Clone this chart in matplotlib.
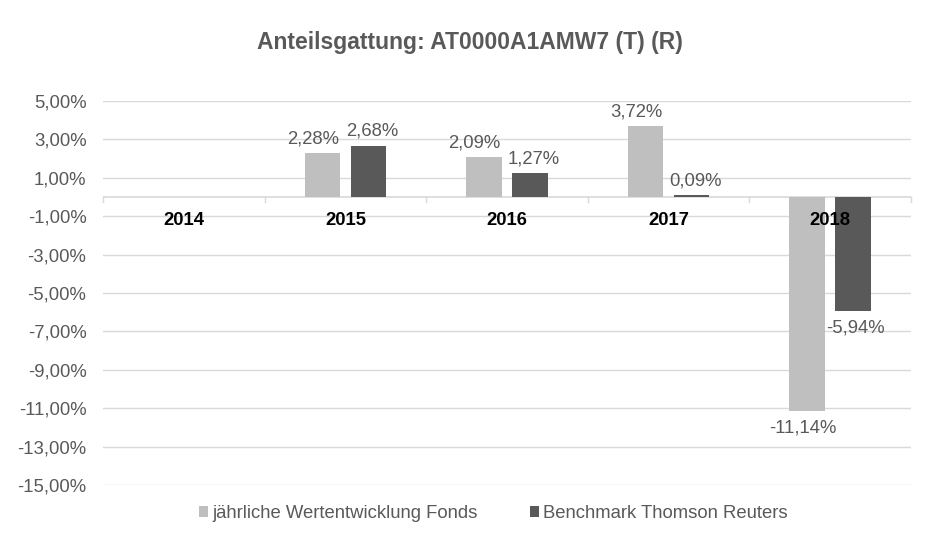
import numpy as np
import matplotlib
matplotlib.use("Agg")
import matplotlib.pyplot as plt

years = ["2014", "2015", "2016", "2017", "2018"]
fonds = [np.nan, 2.28, 2.09, 3.72, -11.14]
benchmark = [np.nan, 2.68, 1.27, 0.09, -5.94]
yticks = [5, 3, 1, -1, -3, -5, -7, -9, -11, -13, -15]

plt.rcParams['font.family'] = ['Liberation Sans', 'DejaVu Sans']

fig = plt.figure(figsize=(9.29, 5.46), dpi=100)
ax = fig.add_axes([0.111, 0.1117, 0.8696, 0.7033])

x = np.arange(len(years))
w = 0.22
off = 0.142
c_f = "#BFBFBF"
c_b = "#595959"
txt = "#595959"
fs = 13.3

ax.bar(x - off, fonds, w, color=c_f, label="jährliche Wertentwicklung Fonds", zorder=3)
ax.bar(x + off, benchmark, w, color=c_b, label="Benchmark Thomson Reuters", zorder=3)

def fmt(v):
    return ("%.2f%%" % v).replace(".", ",")

# labels nudged sideways a little, as Excel does for neighbouring bars
for xs, vals, dx in ((x - off, fonds, -7), (x + off, benchmark, 3)):
    for xi, v in zip(xs, vals):
        if np.isnan(v):
            continue
        if v >= 0:
            ax.annotate(fmt(v), (xi, v), xytext=(dx, 4), textcoords="offset points",
                        ha="center", va="bottom", fontsize=fs, color=txt, zorder=4)
        else:
            ax.annotate(fmt(v), (xi, v), xytext=(dx * 0.5, -6), textcoords="offset points",
                        ha="center", va="top", fontsize=fs, color=txt, zorder=4)

ax.set_xlim(-0.5, len(years) - 0.5)
ax.set_ylim(-15, 5)
ax.set_yticks(yticks)
ax.set_yticklabels([fmt(v) for v in yticks])
ax.tick_params(axis="y", length=0, labelsize=fs, labelcolor=txt, pad=12)
ax.set_xticks([])
ax.grid(axis="y", color="#D9D9D9", linewidth=1, zorder=0)
for s in ax.spines.values():
    s.set_visible(False)

# zero axis with category separators
ax.axhline(0, color="#D9D9D9", linewidth=1.2, zorder=2)
for b in np.arange(-0.5, len(years), 1.0):
    ax.plot([b, b], [0, -0.25], color="#D9D9D9", linewidth=1, zorder=2, clip_on=False)
for xi, y in zip(x, years):
    ax.text(xi, -1.2, y, ha="center", va="center", fontsize=fs, fontweight="bold", color="black", zorder=5)

fig.suptitle("Anteilsgattung: AT0000A1AMW7 (T) (R)", x=0.506, y=0.923, va="center",
             fontsize=16.5, fontweight="bold", color=txt)

ax.legend(loc="center", bbox_to_anchor=(0.483, -0.075), ncol=2, frameon=False,
          fontsize=fs, labelcolor=txt, handlelength=0.5, handleheight=0.5,
          handletextpad=0.25, columnspacing=2.8)

fig.savefig("out.png", dpi=100)
